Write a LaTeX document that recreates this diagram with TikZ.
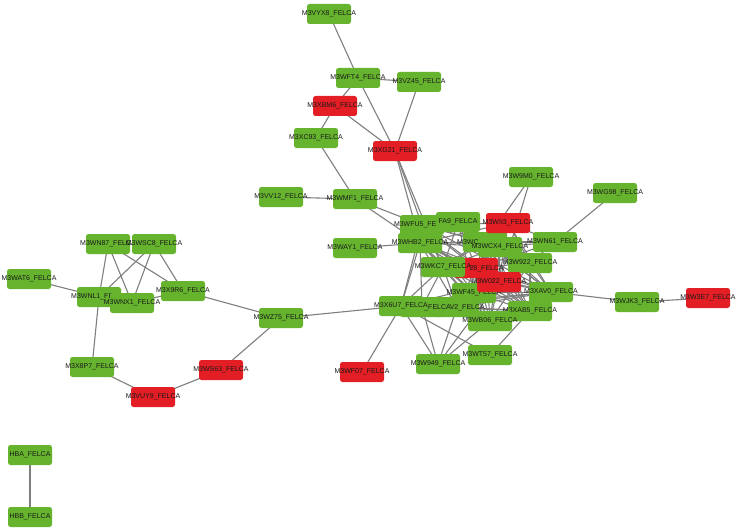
\documentclass[tikz,border=0pt]{standalone}
\usepackage{fontspec}
\setmainfont{Liberation Sans}
\usetikzlibrary{backgrounds}
\definecolor{ngreen}{HTML}{66B42E}
\definecolor{nred}{HTML}{E31E24}
\definecolor{edgec}{HTML}{7F7F7F}
\definecolor{labelc}{HTML}{1A1A1A}
\newcommand{\nlab}[1]{\makebox[0pt][c]{#1}}
\tikzset{
  gbox/.style={rectangle, rounded corners=2.5pt, fill=ngreen, minimum width=44pt, minimum height=20pt, inner sep=0pt, font=\fontsize{7}{8}\selectfont, text=labelc},
  rbox/.style={gbox, fill=nred},
  txt/.style={inner sep=0pt, font=\fontsize{7}{8}\selectfont, text=labelc},
  edge/.style={draw=edgec, line width=1.1pt}
}
\begin{document}
\begin{tikzpicture}[x=1pt,y=-1pt]
\useasboundingbox (0,0) rectangle (738,532);
% top branch
\node[gbox] (vyx8) at (329,14) {\nlab{M3VYX8\_FELCA}};
\node[gbox] (wft4) at (358,78) {\nlab{M3WFT4\_FELCA}};
\node[gbox] (vz45) at (419,82) {\nlab{M3VZ45\_FELCA}};
\node[rbox] (xbm6) at (335,106) {\nlab{M3XBM6\_FELCA}};
\node[gbox] (xc93) at (316,138) {\nlab{M3XC93\_FELCA}};
\node[rbox] (xg21) at (395,151) {\nlab{M3XG21\_FELCA}};
\node[gbox] (vv12) at (281,197) {\nlab{M3VV12\_FELCA}};
\node[gbox] (wmf1) at (355,199) {\nlab{M3WMF1\_FELCA}};
\node[gbox] (way1) at (355,248) {\nlab{M3WAY1\_FELCA}};
\node[gbox] (w9m0) at (531,177) {\nlab{M3W9M0\_FELCA}};
\node[gbox] (wg98) at (615,193) {\nlab{M3WG98\_FELCA}};
% core cluster
\node[gbox] (fu5) at (422,225) {\nlab{M3WFU5\_FELCA}};
\node[gbox] (fa9) at (458,222) {\nlab{FA9\_FELCA}};
\node[gbox] (hb2) at (420,243) {\nlab{M3WHB2\_FELCA}};
\node[gbox] (wc) at (485,242) {};
\node[txt, anchor=base west] (wctxt) at (457,244.5) {M3WC};
\node[rbox] (ii3) at (508,223) {\nlab{M3WII3\_FELCA}};
\node[gbox] (cx4) at (500,247) {\nlab{M3WCX4\_FELCA}};
\node[gbox] (n61) at (555,242) {\nlab{M3WN61\_FELCA}};
\node[gbox] (w922) at (530,263) {\nlab{M3W922\_FELCA}};
\node[rbox] (r28) at (476,268) {};
\node[txt, anchor=base east] (r28txt) at (504,270) {28\_FELCA};
\node[gbox] (kc7) at (443,267) {\nlab{M3WKC7\_FELCA}};
\node[gbox] (nb) at (457,307) {};
\node[txt, anchor=base east] (nbtxt) at (485,309) {V2\_FELCA};
\node[gbox] (f45) at (474,293) {\nlab{M3WF45\_FELCA}};
\node[rbox] (w022) at (499,282) {\nlab{M3W022\_FELCA}};
\node[gbox] (na) at (422,307) {};
\node[txt, anchor=base east] (natxt) at (451,309) {\_FELCA};
\node[gbox] (x6u7) at (401,306) {\nlab{M3X6U7\_FELCA}};
\node[gbox] (xab5) at (530,311) {\nlab{M3XAB5\_FELCA}};
\node[gbox] (xav0) at (551,292) {\nlab{M3XAV0\_FELCA}};
\node[gbox] (wb06) at (490,321) {\nlab{M3WB06\_FELCA}};
\node[gbox] (wt57) at (490,355) {\nlab{M3WT57\_FELCA}};
\node[gbox] (w949) at (438,364) {\nlab{M3W949\_FELCA}};
\node[rbox] (wf07) at (362,372) {\nlab{M3WF07\_FELCA}};
\node[gbox] (wjk3) at (637,302) {\nlab{M3WJK3\_FELCA}};
\node[rbox] (w3e7) at (708,298) {\nlab{M3W3E7\_FELCA}};
% left branch
\node[gbox] (wz75) at (281,318) {\nlab{M3WZ75\_FELCA}};
\node[rbox] (ws63) at (221,370) {\nlab{M3WS63\_FELCA}};
\node[rbox] (vuy9) at (153,397) {\nlab{M3VUY9\_FELCA}};
\node[gbox] (x8p7) at (92,367) {\nlab{M3X8P7\_FELCA}};
\node[gbox] (wat6) at (29,279) {\nlab{M3WAT6\_FELCA}};
\node[gbox] (wn87) at (108,244) {\nlab{M3WN87\_FELCA}};
\node[gbox] (wsc8) at (154,244) {\nlab{M3WSC8\_FELCA}};
\node[gbox] (wnl1) at (99,297) {\nlab{M3WNL1\_FELCA}};
\node[gbox] (wnx1) at (132,303) {\nlab{M3WNX1\_FELCA}};
\node[gbox] (x9r6) at (183,291) {\nlab{M3X9R6\_FELCA}};
% hemoglobins
\node[gbox] (hba) at (30,455) {\nlab{HBA\_FELCA}};
\node[gbox] (hbb) at (30,517) {\nlab{HBB\_FELCA}};
\begin{pgfonlayer}{background}
\fill[white] (0,0) rectangle (738,532);
\foreach \a/\b in {vyx8/wft4, wft4/vz45, wft4/xbm6, wft4/xg21, vz45/xg21, xbm6/xc93, xbm6/xg21, xc93/wmf1, vv12/wmf1, wmf1/fu5, wmf1/hb2, way1/hb2, xg21/fu5, xg21/hb2, xg21/kc7, w9m0/wc, w9m0/w022, wg98/n61, xav0/wjk3, wjk3/w3e7, x6u7/wz75, wz75/x9r6, wz75/ws63, ws63/vuy9, vuy9/x8p7, x8p7/wnl1, wnl1/wat6, wnl1/wn87, wnl1/wsc8, wnx1/wn87, wnx1/wsc8, wnx1/x9r6, wn87/x9r6, wsc8/x9r6, hba/hbb, x6u7/wf07, x6u7/w949, na/w949, nb/w949, w022/w949, x6u7/wt57, wt57/xab5, wb06/w949}
  \draw[edge] (\a.center) -- (\b.center);
\foreach \a/\b in {fu5/fa9, fu5/hb2, fu5/wc, fu5/cx4, fu5/kc7, fu5/r28, fu5/w022, fu5/f45, fu5/xav0, fu5/x6u7, fu5/ii3,
  fa9/hb2, fa9/wc, fa9/cx4, fa9/kc7, fa9/r28, fa9/w922, fa9/w022, fa9/f45, fa9/xav0, fa9/xab5,
  ii3/wc, ii3/cx4, ii3/w922, ii3/r28, ii3/w022, ii3/f45, ii3/xav0, ii3/n61, ii3/hb2, ii3/kc7,
  hb2/wc, hb2/cx4, hb2/kc7, hb2/r28, hb2/w022, hb2/f45, hb2/xav0, hb2/x6u7, hb2/nb, hb2/wb06, hb2/xab5, hb2/na,
  wc/cx4, wc/kc7, wc/r28, wc/w922, wc/w022, wc/f45, wc/xav0, wc/xab5, wc/wb06, wc/n61,
  cx4/kc7, cx4/r28, cx4/w922, cx4/w022, cx4/f45, cx4/xav0, cx4/xab5, cx4/wb06, cx4/n61,
  kc7/r28, kc7/w022, kc7/f45, kc7/xav0, kc7/x6u7, kc7/na, kc7/nb, kc7/wb06, kc7/xab5,
  r28/w922, r28/w022, r28/f45, r28/xav0, r28/xab5, r28/wb06, r28/nb,
  w922/w022, w922/f45, w922/xav0, w922/xab5, w922/n61, w922/wb06,
  w022/f45, w022/xav0, w022/xab5, w022/wb06, w022/nb, w022/x6u7,
  f45/xav0, f45/xab5, f45/wb06, f45/nb, f45/na, f45/x6u7,
  xav0/xab5, xav0/wb06, xav0/nb, xav0/x6u7, xav0/na,
  na/x6u7, na/nb, na/wb06, nb/wb06, nb/xab5, x6u7/wb06, x6u7/xab5, xab5/wb06, n61/r28, n61/hb2}
  \draw[edge] (\a.center) -- (\b.center);
\end{pgfonlayer}
\end{tikzpicture}
\end{document}
